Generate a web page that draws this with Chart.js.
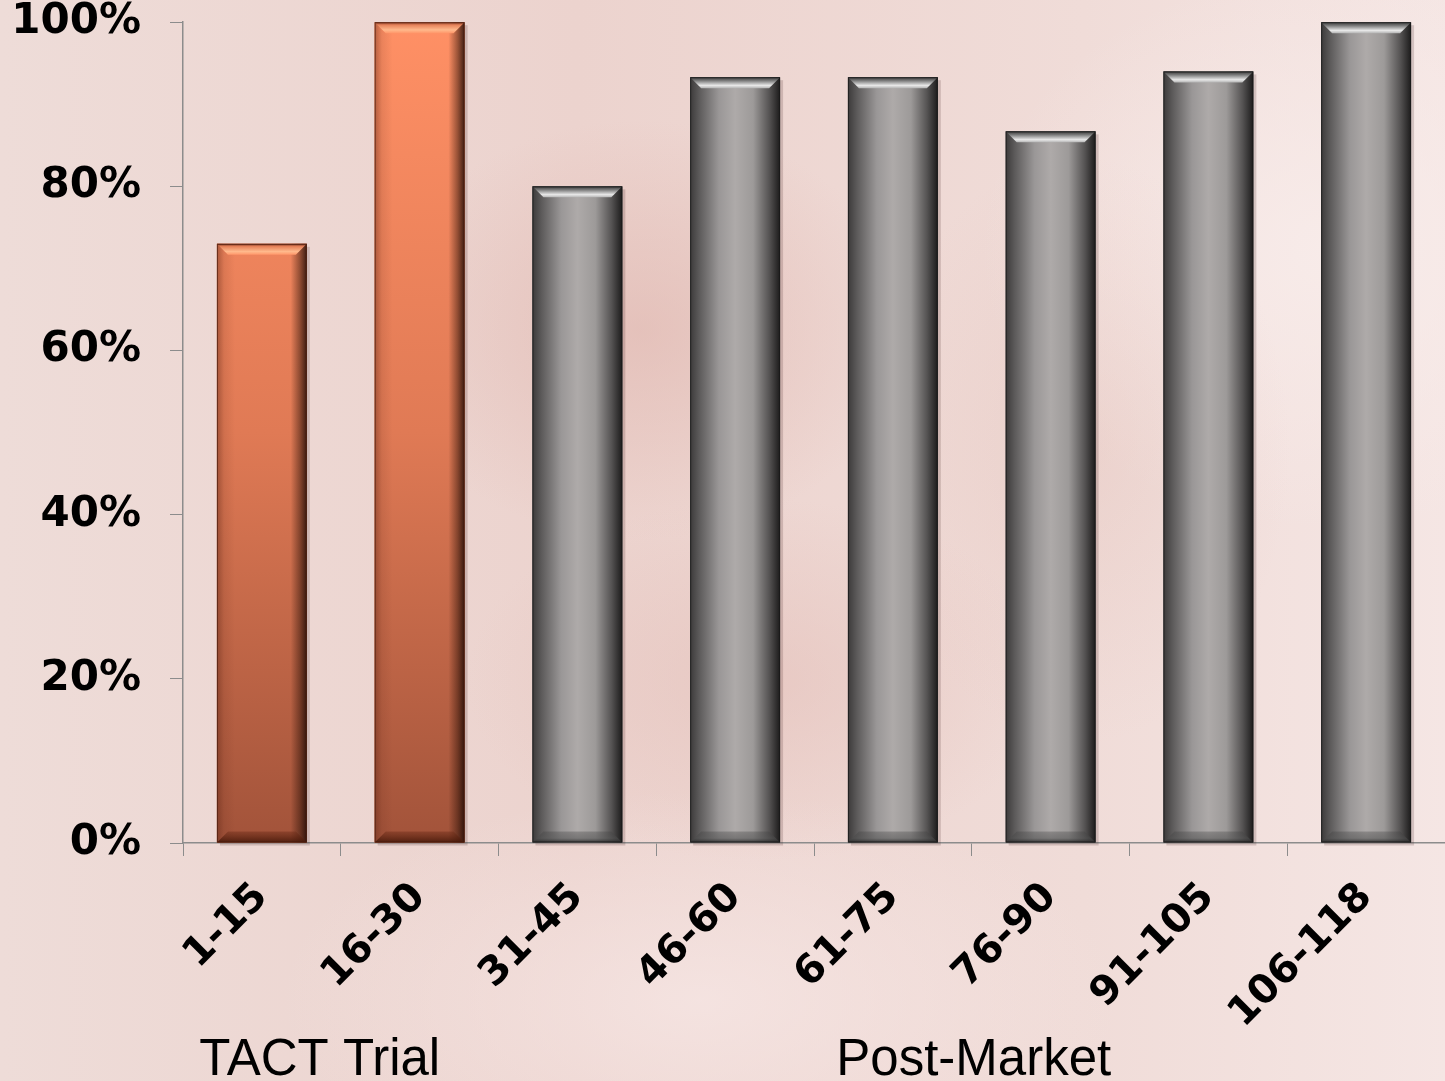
<!DOCTYPE html>
<html>
<head>
<meta charset="utf-8">
<script src="https://cdn.jsdelivr.net/npm/chart.js@4.4.1/dist/chart.umd.min.js"></script>
<style>
  html, body { margin: 0; padding: 0; }
  body {
    width: 1445px; height: 1081px; overflow: hidden; position: relative;
    background:
      radial-gradient(ellipse 380px 300px at 640px 330px, rgba(222,178,170,0.55), rgba(222,178,170,0) 70%),
      radial-gradient(ellipse 420px 260px at 760px 680px, rgba(225,185,178,0.45), rgba(225,185,178,0) 70%),
      radial-gradient(ellipse 300px 420px at 1080px 450px, rgba(226,190,182,0.35), rgba(226,190,182,0) 70%),
      radial-gradient(ellipse 500px 400px at 1330px 250px, rgba(248,236,234,0.9), rgba(248,236,234,0) 70%),
      radial-gradient(ellipse 600px 300px at 700px 1000px, rgba(246,230,228,0.8), rgba(246,230,228,0) 70%),
      linear-gradient(90deg, #eedcd8 0%, #ecd3ce 40%, #f0dcd8 75%, #f5e6e4 100%);
  }
  #wrap { position: absolute; left: 0; top: -32px; width: 1445px; height: 1113px; }
</style>
</head>
<body>
<div id="wrap"><canvas id="mycanvas"></canvas></div>
<script>
var categories = ["1-15", "16-30", "31-45", "46-60", "61-75", "76-90", "91-105", "106-118"];
var success = [73, 100, 80, 93.3, 93.3, 86.7, 94, 100];
var trialBars = [true, true, false, false, false, false, false, false];
var yTicks = [0, 20, 40, 60, 80, 100];
var groupNames = ["TACT Trial", "Post-Market"];
var groupStart = [0, 2];
var groupEnd = [1, 7];

// gradient body and bevelled edges painted over each bar
var bevelPlugin = {
  id: 'bevel',
  afterDatasetsDraw: function(chart) {
    var c = chart.ctx;
    var meta = chart.getDatasetMeta(0);
    meta.data.forEach(function(bar, i) {
      var l = bar.x - bar.width / 2, r = bar.x + bar.width / 2;
      var t = bar.y, b = bar.base, d = 11;
      var orange = trialBars[i];
      c.save();

      // soft drop shadow
      c.fillStyle = 'rgba(60,30,25,0.18)';
      c.fillRect(l + 3, t + 3, r - l, b - t);

      // body
      var g;
      if (orange) {
        g = c.createLinearGradient(0, chart.chartArea.top, 0, b);
        g.addColorStop(0, '#ff9065');
        g.addColorStop(0.5, '#e07a55');
        g.addColorStop(1, '#a2533a');
      } else {
        g = c.createLinearGradient(l, 0, r, 0);
        g.addColorStop(0, '#3c3a3a');
        g.addColorStop(0.1, '#5c5a5a');
        g.addColorStop(0.32, '#9a9797');
        g.addColorStop(0.5, '#aeaaa9');
        g.addColorStop(0.7, '#9d9a99');
        g.addColorStop(0.88, '#555353');
        g.addColorStop(1, '#1c1b1b');
      }
      c.fillStyle = g;
      c.fillRect(l, t, r - l, b - t);

      // side shading on the orange bars
      if (orange) {
        var side = c.createLinearGradient(l, 0, r, 0);
        side.addColorStop(0, 'rgba(90,35,20,0.45)');
        side.addColorStop(0.08, 'rgba(90,35,20,0.12)');
        side.addColorStop(0.2, 'rgba(90,35,20,0)');
        side.addColorStop(0.82, 'rgba(40,15,5,0)');
        side.addColorStop(0.92, 'rgba(40,15,5,0.45)');
        side.addColorStop(1, 'rgba(30,10,5,0.85)');
        c.fillStyle = side;
        c.fillRect(l, t, r - l, b - t);
      }

      // top bevel
      c.beginPath();
      c.moveTo(l, t); c.lineTo(r, t); c.lineTo(r - d, t + d); c.lineTo(l + d, t + d); c.closePath();
      var tg = c.createLinearGradient(0, t, 0, t + d);
      if (orange) {
        tg.addColorStop(0, 'rgba(120,50,30,0.9)');
        tg.addColorStop(0.25, 'rgba(230,130,90,1)');
        tg.addColorStop(0.7, 'rgba(255,185,140,1)');
        tg.addColorStop(1, 'rgba(255,150,105,1)');
      } else {
        tg.addColorStop(0, 'rgba(55,55,55,1)');
        tg.addColorStop(0.3, 'rgba(120,120,120,1)');
        tg.addColorStop(0.75, 'rgba(232,232,232,1)');
        tg.addColorStop(1, 'rgba(180,180,180,1)');
      }
      c.fillStyle = tg;
      c.fill();

      // bottom bevel
      c.beginPath();
      c.moveTo(l, b); c.lineTo(r, b); c.lineTo(r - d, b - d); c.lineTo(l + d, b - d); c.closePath();
      var bg = c.createLinearGradient(0, b - d, 0, b);
      if (orange) {
        bg.addColorStop(0, 'rgba(110,45,25,0.45)');
        bg.addColorStop(1, 'rgba(70,25,10,0.9)');
      } else {
        bg.addColorStop(0, 'rgba(60,60,60,0.3)');
        bg.addColorStop(0.6, 'rgba(80,80,80,0.55)');
        bg.addColorStop(1, 'rgba(40,40,40,0.9)');
      }
      c.fillStyle = bg;
      c.fill();

      // thin outline
      c.strokeStyle = orange ? 'rgba(70,25,12,0.7)' : 'rgba(25,25,25,0.8)';
      c.lineWidth = 1;
      c.strokeRect(l + 0.5, t + 0.5, r - l - 1, b - t - 1);
      c.restore();
    });
  }
};

// group captions under the category labels
var groupPlugin = {
  id: 'groups',
  afterDraw: function(chart, args, opts) {
    var c = chart.ctx, xs = chart.scales.x;
    c.save();
    c.font = '51px "Liberation Sans", Arial, sans-serif';
    c.fillStyle = '#000';
    c.textAlign = 'center';
    c.textBaseline = 'alphabetic';
    groupNames.forEach(function(name, g) {
      var cx = (xs.getPixelForValue(groupStart[g]) + xs.getPixelForValue(groupEnd[g])) / 2;
      c.fillText(name, cx + opts.dx[g], chart.chartArea.bottom + opts.below);
    });
    c.restore();
  }
};

var ctx = document.getElementById('mycanvas');

var BarGraph = new Chart(ctx, {
  type: 'bar',
  data: {
    labels: categories,
    datasets: [{
      data: success,
      backgroundColor: trialBars.map(function(t) { return t ? '#e07a55' : '#9a9797'; }),
      borderWidth: 0,
      categoryPercentage: 1,
      barPercentage: 0.57
    }]
  },
  plugins: [bevelPlugin, groupPlugin],
  options: {
    responsive: true,
    maintainAspectRatio: false,
    animation: false,
    layout: { padding: 0 },
    scales: {
      x: {
        grid: { drawOnChartArea: false, drawTicks: true, tickLength: 13, color: '#8c8c8c', offset: true },
        border: { color: '#8c8c8c', width: 1.5 },
        ticks: {
          color: '#000',
          font: { family: '"DejaVu Sans", Verdana, sans-serif', weight: 'bold', size: 40 },
          minRotation: 45, maxRotation: 45, padding: 18, autoSkip: false
        },
        afterFit: function(scale) { scale.height = 238; }
      },
      y: {
        min: 0, max: 100,
        afterBuildTicks: function(scale) { scale.ticks = yTicks.map(function(v) { return { value: v }; }); },
        grid: { drawOnChartArea: false, drawTicks: true, tickLength: 13, color: '#8c8c8c' },
        border: { color: '#8c8c8c', width: 1.5 },
        ticks: {
          color: '#000',
          padding: 29,
          font: { family: '"DejaVu Sans", Verdana, sans-serif', weight: 'bold', size: 42 },
          callback: function(v) { return v + '%'; }
        },
        afterFit: function(scale) { scale.width = 183; }
      }
    },
    plugins: {
      legend: { display: false },
      tooltip: { enabled: false },
      groups: { dx: [-21, 2], below: 232 }
    }
  }
});
</script>
</body>
</html>
